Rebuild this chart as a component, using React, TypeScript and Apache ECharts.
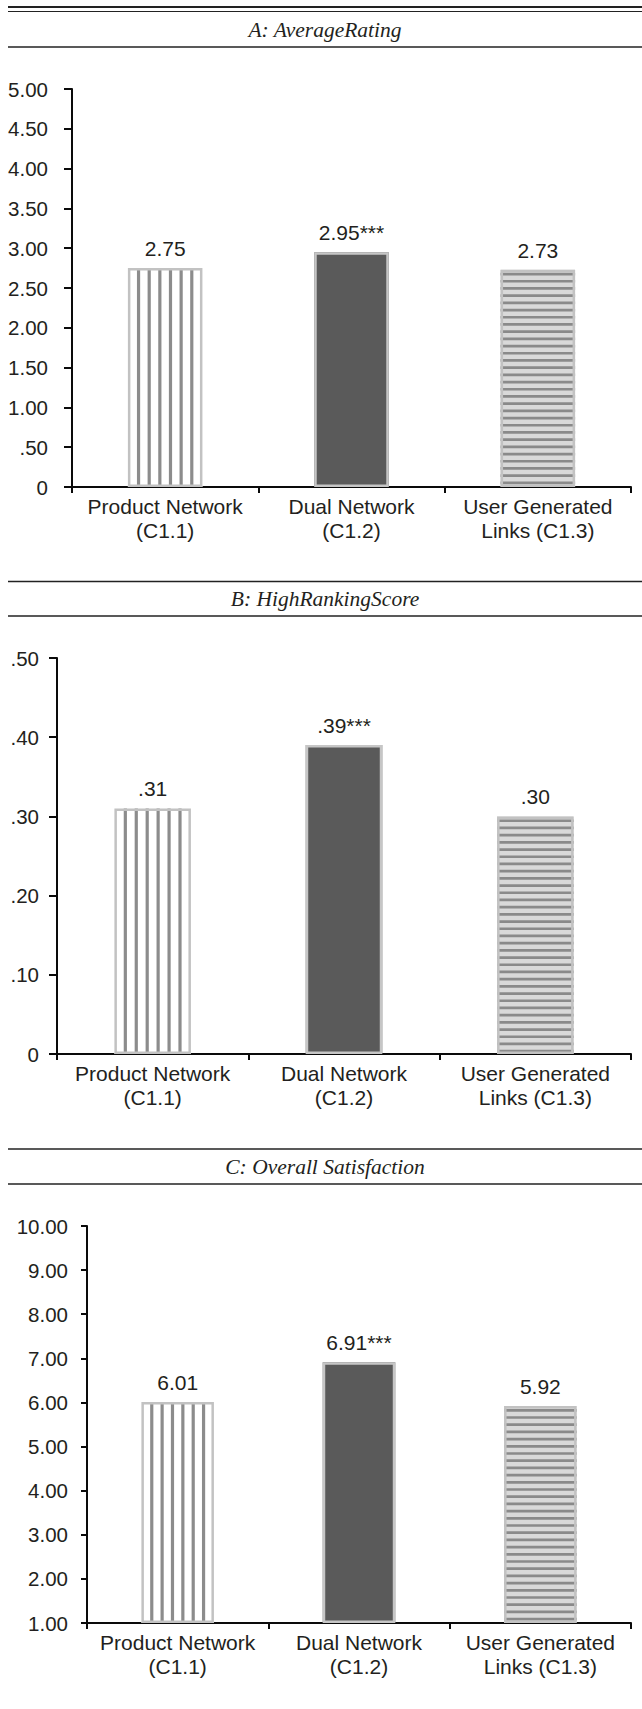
import React, { useEffect, useRef } from "react";
import * as echarts from "echarts";

// ---- data ----
const categories = ["Product Network\n(C1.1)", "Dual Network\n(C1.2)", "User Generated\nLinks (C1.3)"];

const titles = ["A: AverageRating", "B: HighRankingScore", "C: Overall Satisfaction"];

const ratingValues = [2.75, 2.95, 2.73];
const ratingLabels = ["2.75", "2.95***", "2.73"];
const ratingTicks = ["0", ".50", "1.00", "1.50", "2.00", "2.50", "3.00", "3.50", "4.00", "4.50", "5.00"];

const rankingValues = [0.31, 0.39, 0.3];
const rankingLabels = [".31", ".39***", ".30"];
const rankingTicks = ["0", ".10", ".20", ".30", ".40", ".50"];

const satisfactionValues = [6.01, 6.91, 5.92];
const satisfactionLabels = ["6.01", "6.91***", "5.92"];
const satisfactionTicks = ["1.00", "2.00", "3.00", "4.00", "5.00", "6.00", "7.00", "8.00", "9.00", "10.00"];

// ---- styles ----
const TEXT = "#231f20";
const AXIS = "#0a0a0a";
const SANS = "'Liberation Sans', Arial, sans-serif";
const SERIF = "'Liberation Serif', 'Times New Roman', serif";

const barStyles = [
  { fill: "#ffffff", border: "#c2c2c2", pattern: "v", stripe: "#8c8c8c" },
  { fill: "#5a5a5a", border: "#c6c6c6", pattern: "none", stripe: "" },
  { fill: "#d9d9d9", border: "#c2c2c2", pattern: "h", stripe: "#8a8a8a" },
];

const panels = [
  { values: ratingValues, labels: ratingLabels, ticks: ratingTicks, min: 0, max: 5, interval: 0.5,
    grid: { left: 72, top: 89, height: 398 }, labelMargin: 24, tickLen: 8, divisions: 7,
    lines: [47], title: 30 },
  { values: rankingValues, labels: rankingLabels, ticks: rankingTicks, min: 0, max: 0.5, interval: 0.1,
    grid: { left: 57, top: 658, height: 396 }, labelMargin: 18, tickLen: 8, divisions: 7,
    lines: [581.5, 616], title: 599 },
  { values: satisfactionValues, labels: satisfactionLabels, ticks: satisfactionTicks, min: 1, max: 10, interval: 1,
    grid: { left: 87, top: 1226, height: 397 }, labelMargin: 19, tickLen: 6, divisions: 7,
    lines: [1149, 1184], title: 1166.5 },
];

function makeRenderItem(labels: string[], yMin: number, divisions: number) {
  return (params: any, api: any) => {
    const idx = api.value(0);
    const v = api.value(1);
    const top = api.coord([idx, v]);
    const base = api.coord([idx, yMin]);
    const band = api.size([1, 0])[0];
    const w = band * 0.4;
    const x0 = top[0] - w / 2;
    const y0 = top[1];
    const h = base[1] - y0;
    const st = barStyles[params.dataIndex];
    const children: any[] = [
      { type: "rect", shape: { x: x0, y: y0, width: w, height: h }, style: { fill: st.fill } },
    ];
    if (st.pattern === "v") {
      const p = w / divisions;
      for (let k = 1; k < divisions; k++) {
        children.push({
          type: "rect",
          shape: { x: x0 + k * p - 1.6, y: y0, width: 3.2, height: h },
          style: { fill: st.stripe },
        });
      }
    } else if (st.pattern === "h") {
      const p = 7.2;
      for (let y = y0 + 3; y < base[1] - 3; y += p) {
        children.push({
          type: "rect",
          shape: { x: x0, y: y, width: w, height: 2.7 },
          style: { fill: st.stripe },
        });
      }
    }
    const bw = 2.5;
    children.push({
      type: "rect",
      shape: { x: x0 + bw / 2, y: y0 + bw / 2, width: w - bw, height: h - bw },
      style: { fill: "none", stroke: st.border, lineWidth: bw },
    });
    children.push({
      type: "text",
      x: top[0],
      y: y0 - 9,
      style: {
        text: labels[params.dataIndex],
        fontSize: 21,
        fontFamily: SANS,
        fill: TEXT,
        align: "center",
        verticalAlign: "bottom",
      },
    });
    return { type: "group", children };
  };
}

export default function App() {
  const ref = useRef<HTMLDivElement>(null);
  useEffect(() => {
    if (!ref.current) return;
    const chart = echarts.init(ref.current, undefined, { renderer: "svg" });

    const grids: any[] = [];
    const xAxes: any[] = [];
    const yAxes: any[] = [];
    const series: any[] = [];
    const graphics: any[] = [
      { type: "line", shape: { x1: 8, y1: 7, x2: 642, y2: 7 }, style: { stroke: "#222", lineWidth: 2 } },
      { type: "line", shape: { x1: 8, y1: 11.5, x2: 642, y2: 11.5 }, style: { stroke: "#222", lineWidth: 1.2 } },
    ];

    panels.forEach((p, i) => {
      grids.push({ left: p.grid.left, top: p.grid.top, height: p.grid.height, right: 11, containLabel: false });
      xAxes.push({
        type: "category",
        gridIndex: i,
        data: categories,
        boundaryGap: true,
        axisLine: { show: true, onZero: false, lineStyle: { color: AXIS, width: 2 } },
        axisTick: { show: true, length: 6, interval: 0, lineStyle: { color: AXIS, width: 2 } },
        axisLabel: { interval: 0, fontSize: 21, lineHeight: 24, margin: 7, color: TEXT, fontFamily: SANS },
        splitLine: { show: false },
      });
      yAxes.push({
        type: "value",
        gridIndex: i,
        min: p.min,
        max: p.max,
        interval: p.interval,
        axisLine: { show: true, lineStyle: { color: AXIS, width: 2 } },
        axisTick: { show: true, length: p.tickLen, lineStyle: { color: AXIS, width: 2 } },
        axisLabel: {
          fontSize: 20.5,
          margin: p.labelMargin,
          color: TEXT,
          fontFamily: SANS,
          formatter: (val: number) => p.ticks[Math.round((val - p.min) / p.interval)] ?? "",
        },
        splitLine: { show: false },
      });
      series.push({
        type: "custom",
        xAxisIndex: i,
        yAxisIndex: i,
        coordinateSystem: "cartesian2d",
        encode: { x: 0, y: 1 },
        data: p.values.map((v, k) => [k, v]),
        renderItem: makeRenderItem(p.labels, p.min, p.divisions),
        clip: false,
      });
      p.lines.forEach((y) => {
        graphics.push({ type: "line", shape: { x1: 8, y1: y, x2: 642, y2: y }, style: { stroke: "#222", lineWidth: 1.5 } });
      });
      graphics.push({
        type: "text",
        x: 325,
        y: p.title,
        style: {
          text: titles[i],
          fontSize: 21.5,
          fontStyle: "italic",
          fontFamily: SERIF,
          fill: TEXT,
          align: "center",
          verticalAlign: "middle",
        },
      });
    });

    chart.setOption({
      animation: false,
      backgroundColor: "#ffffff",
      grid: grids,
      xAxis: xAxes,
      yAxis: yAxes,
      series,
      graphic: graphics,
    });
    return () => chart.dispose();
  }, []);

  return (
    <div
      ref={ref}
      style={{ position: "absolute", left: 0, top: 0, width: 642, height: 1709, background: "#fff" }}
    />
  );
}
